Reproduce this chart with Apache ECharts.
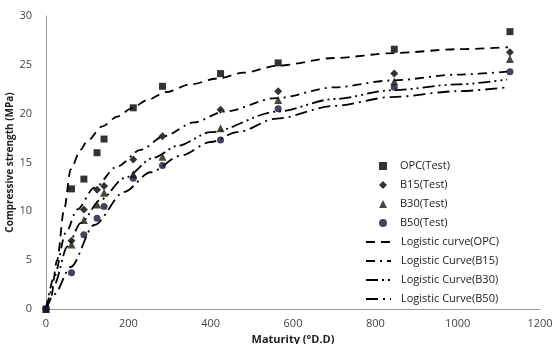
<!DOCTYPE html>
<html>
<head>
<meta charset="utf-8">
<title>Compressive strength vs maturity</title>
<script src="https://cdn.jsdelivr.net/npm/echarts@6/dist/echarts.min.js"></script>
<style>
  html, body { margin: 0; padding: 0; background: #fff; }
  #chart { width: 554px; height: 344px; }
</style>
</head>
<body>
<div id="chart"></div>
<script>
// Maturity values of the test ages (°D.D)
const maturity = [0, 62, 92, 124, 141, 212, 283, 424, 564, 846, 1127];

// Test results (MPa)
const opcTest = [0, 12.3, 13.3, 16.0, 17.4, 20.6, 22.8, 24.1, 25.2, 26.6, 28.4];
const b15Test = [0, 7.0, 10.2, 12.2, 12.6, 15.3, 17.7, 20.4, 22.3, 24.1, 26.3];
const b30Test = [0, 6.6, 9.1, 10.7, 11.9, 13.8, 15.6, 18.5, 21.4, 23.3, 25.6];
const b50Test = [0, 3.7, 7.6, 9.3, 10.5, 13.4, 14.7, 17.3, 20.5, 22.7, 24.3];

// Fitted logistic curves as [maturity, strength]
const opcCurve = [[0, 0], [11, 0.9], [27, 5.0], [44, 10.2], [60, 14.3], [84, 16.3], [100, 17.2], [137, 18.7],
  [173, 19.7], [210, 20.6], [246, 21.4], [291, 22.2], [351, 23.0], [416, 23.6], [481, 24.2], [561, 24.9],
  [700, 25.7], [843, 26.2], [1000, 26.6], [1122, 26.8]];
const b15Curve = [[0, 0], [20, 3.3], [48, 7.8], [76, 10.2], [117, 12.4], [173, 14.6], [230, 16.3], [287, 17.7],
  [359, 19.1], [432, 20.2], [560, 21.6], [700, 22.7], [840, 23.4], [1000, 24.0], [1120, 24.3]];
const b30Curve = [[0, 0], [20, 2.5], [52, 6.4], [84, 8.8], [133, 11.2], [190, 13.4], [262, 15.5], [319, 16.7],
  [400, 18.1], [560, 20.2], [700, 21.5], [840, 22.4], [1000, 23.0], [1120, 23.5]];
const b50Curve = [[0, 0], [20, 1.5], [60, 4.3], [117, 8.6], [190, 12.0], [254, 14.0], [327, 15.7], [400, 17.1],
  [465, 18.1], [560, 19.5], [700, 20.8], [840, 21.7], [1000, 22.3], [1120, 22.7]];

// Axis ticks
const xTicks = { min: 0, max: 1200, interval: 200 };
const yTicks = { min: 0, max: 30, interval: 5 };

const pair = (ys) => maturity.map((m, i) => [m, ys[i]]);

const chart = echarts.init(document.getElementById('chart'));

const scatter = (name, data, symbol, size, color) => ({
  name: name,
  type: 'scatter',
  data: pair(data),
  symbol: symbol,
  symbolSize: size,
  itemStyle: { color: color },
  z: 5
});

const curve = (name, data, dash) => ({
  name: name,
  type: 'line',
  data: data,
  symbol: 'none',
  smooth: 0.3,
  smoothMonotone: 'x',
  lineStyle: { color: '#000', width: 1.8, type: dash },
  itemStyle: { color: '#000' }
});

// shared legend text look
const legendText = { fontSize: 11, color: '#222', fontFamily: 'Open Sans', lineHeight: 14 };

const options = {
  animation: false,
  textStyle: { fontFamily: 'Open Sans' },
  grid: { left: 46, right: 14, top: 16, bottom: 35, outerBoundsMode: 'none' },
  legend: [
    {
      // markers of the test data
      orient: 'vertical',
      left: 374,
      top: 154,
      itemWidth: 8,
      itemHeight: 8,
      itemGap: 5,
      textStyle: Object.assign({ padding: [0, 0, 0, 8] }, legendText),
      data: ['OPC(Test)', 'B15(Test)', 'B30(Test)', 'B50(Test)']
    },
    {
      // fitted curves (line sample only, no dot)
      orient: 'vertical',
      left: 360,
      top: 230,
      itemWidth: 25,
      itemHeight: 8,
      itemGap: 5,
      itemStyle: { opacity: 0 },
      textStyle: Object.assign({ padding: [0, 0, 0, 5] }, legendText),
      data: ['Logistic curve(OPC)', 'Logistic Curve(B15)', 'Logistic Curve(B30)', 'Logistic Curve(B50)']
    }
  ],
  xAxis: {
    type: 'value',
    min: xTicks.min,
    max: xTicks.max,
    interval: xTicks.interval,
    name: 'Maturity (°D.D)',
    nameLocation: 'middle',
    nameGap: 24,
    nameTextStyle: { fontSize: 11, fontWeight: 'bold', color: '#222' },
    axisLine: { lineStyle: { color: '#999', width: 1 } },
    axisTick: { show: false },
    splitLine: { show: false },
    axisLabel: { fontSize: 11, color: '#444', margin: 9, formatter: (v) => String(v) }
  },
  yAxis: {
    type: 'value',
    min: yTicks.min,
    max: yTicks.max,
    interval: yTicks.interval,
    name: 'Compressive strength (MPa)',
    nameLocation: 'middle',
    nameGap: 31,
    nameMoveOverlap: false,
    nameTextStyle: { fontSize: 10, fontWeight: 'bold', color: '#222' },
    axisLine: { show: true, lineStyle: { color: '#999', width: 1 } },
    axisTick: { show: false },
    splitLine: { show: false },
    axisLabel: { fontSize: 11, color: '#444', margin: 14 }
  },
  series: [
    curve('Logistic curve(OPC)', opcCurve, [9, 6]),
    curve('Logistic Curve(B15)', b15Curve, [9, 5, 2, 5]),
    curve('Logistic Curve(B30)', b30Curve, [12, 4, 2, 4, 2, 4]),
    curve('Logistic Curve(B50)', b50Curve, [12, 5, 2, 5]),
    scatter('OPC(Test)', opcTest, 'rect', 7, '#000'),
    scatter('B15(Test)', b15Test, 'diamond', 8, '#000'),
    scatter('B30(Test)', b30Test, 'triangle', 8, '#1a1a0a'),
    scatter('B50(Test)', b50Test, 'circle', 7, '#15153a')
  ]
};

chart.setOption(options);
</script>
</body>
</html>
